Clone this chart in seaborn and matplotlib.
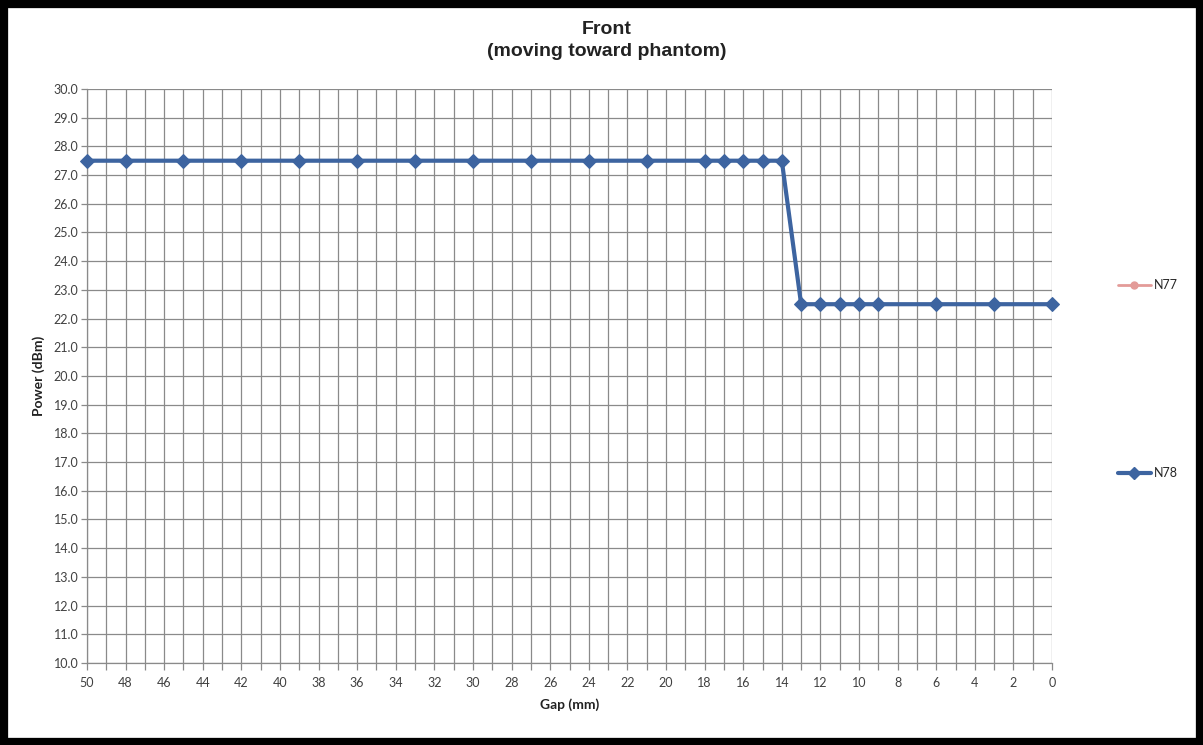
import numpy as np
import pandas as pd
import seaborn as sns
import matplotlib.pyplot as plt
from matplotlib.lines import Line2D
from matplotlib.patches import Rectangle

# data
gap_mm = [50, 48, 45, 42, 39, 36, 33, 30, 27, 24, 21, 18, 17, 16, 15, 14,
          13, 12, 11, 10, 9, 6, 3, 0]
n78_power = [27.5] * 16 + [22.5] * 8
y_ticks = np.arange(10, 31, 1)
x_ticks = np.arange(0, 51, 1)

df = pd.DataFrame({"Gap (mm)": gap_mm, "Power (dBm)": n78_power})

sns.set_style("white")
plt.rcParams['font.family'] = ['Lato', 'DejaVu Sans']

fig = plt.figure(figsize=(12.03, 7.45), dpi=100)
ax = fig.add_axes([0.0723, 0.1101, 0.8022, 0.7705])

n78_color = "#3d64a0"
n77_color = "#e39b98"

sns.lineplot(data=df, x="Gap (mm)", y="Power (dBm)", ax=ax, color=n78_color,
             linewidth=3, marker="D", markersize=7, markeredgecolor=n78_color,
             zorder=5, clip_on=False)

ax.set_xlim(50, 0)
ax.set_ylim(10, 30)
ax.set_yticks(y_ticks)
ax.set_yticklabels(["%.1f" % v for v in y_ticks])
ax.set_xticks(x_ticks)
ax.set_xticklabels([str(v) if v % 2 == 0 else "" for v in x_ticks])
ax.grid(True, color="#8a8a8a", linewidth=0.9)
ax.tick_params(axis="both", labelsize=9, colors="#8a8a8a", labelcolor="#404040",
               width=0.9, direction="out", bottom=True, left=True)
ax.tick_params(axis="y", length=4, pad=2)
ax.tick_params(axis="x", length=5, pad=5)
for side in ["top", "right"]:
    ax.spines[side].set_visible(False)
for side in ["left", "bottom"]:
    ax.spines[side].set_color("#8a8a8a")
    ax.spines[side].set_linewidth(0.9)

ax.set_xlabel("Gap (mm)", fontsize=10, fontweight="bold", color="#222222", labelpad=7)
ax.set_ylabel("Power (dBm)", fontsize=10, fontweight="bold", color="#222222", labelpad=6)
fig.suptitle("Front\n(moving toward phantom)", x=0.5046, y=0.972,
             fontsize=14, fontweight="bold", color="#222222", linespacing=1.4,
             family=["Liberation Sans", "DejaVu Sans"])

# legend entries, Excel style, far apart on the right
h77 = Line2D([], [], color=n77_color, marker="o", markersize=5, linewidth=2)
h78 = Line2D([], [], color=n78_color, marker="D", markersize=6, linewidth=3)
fig.legend([h77], ["N77"], loc="center left", bbox_to_anchor=(0.920, 0.617),
           frameon=False, fontsize=9, handlelength=2.6, handletextpad=0.3)
fig.legend([h78], ["N78"], loc="center left", bbox_to_anchor=(0.920, 0.365),
           frameon=False, fontsize=9, handlelength=2.6, handletextpad=0.3)

# black frame around the picture
fig.patches.append(Rectangle((0, 0), 1, 1, transform=fig.transFigure, fill=False,
                             edgecolor="black", linewidth=11, zorder=10))

fig.savefig("out.png", dpi=100)
